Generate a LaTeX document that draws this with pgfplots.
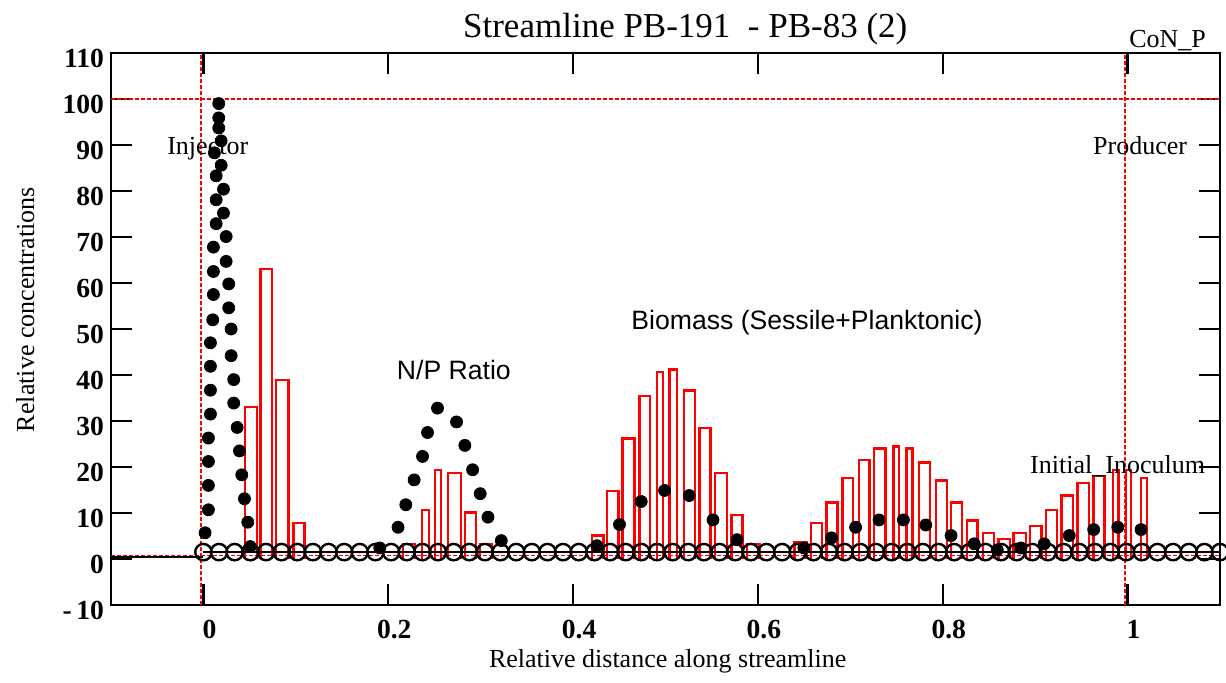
\documentclass[border=0pt]{standalone}
\usepackage{pgfplots}
\pgfplotsset{compat=1.18}
\usepackage{fontspec}
\setmainfont{Liberation Serif}
\newfontfamily\arial{Liberation Sans}
\newcommand{\rbar}[3]{\addplot[color=red, line width=1.2pt, sharp plot, mark=none] coordinates {(#1,0) (#1,#3) (#2,#3) (#2,0)};}
\begin{document}
\begin{tikzpicture}
\path[use as bounding box] (-55.5pt,-38.5pt) rectangle (557.5pt,302.5pt);
\begin{axis}[
  width=554.5pt, height=276pt, scale only axis,
  xmin=-0.1, xmax=1.1, ymin=-10, ymax=110,
  axis line style={line width=1.1pt, black},
  every tick/.style={line width=1.1pt, black},
  major tick length=10.5pt,
  tick align=inside,
  xtick={0,0.2,0.4,0.6,0.8,1},
  xticklabels={0,0.2,0.4,0.6,0.8,1},
  ytick={-10,0,10,20,30,40,50,60,70,80,90,100,110},
  yticklabels={-\,10,0,10,20,30,40,50,60,70,80,90,100,110},
  ticklabel style={font=\fontsize{13.8}{13.8}\selectfont\bfseries},
  xticklabel style={yshift=-4pt, xshift=3pt},
  yticklabel style={yshift=-2.5pt},
  minor tick num=0,
]
% red reference lines
\addplot[draw=red, mark=none, line width=0.6pt, dash pattern=on 2pt off 1pt] coordinates {(-0.1,100) (1.1,100)};
\addplot[draw=red, mark=none, line width=0.6pt, dash pattern=on 2pt off 1pt] coordinates {(-0.1,0.8) (1.1,0.8)};
\addplot[draw=red, mark=none, line width=0.8pt, dash pattern=on 2pt off 1pt] coordinates {(-0.0025,-10) (-0.0025,110)};
\addplot[draw=red, mark=none, line width=0.8pt, dash pattern=on 2pt off 1pt] coordinates {(0.9975,-10) (0.9975,110)};
% bars (left edge, right edge, height)
\rbar{0.0452}{0.0578}{33.0}
\rbar{0.0618}{0.0740}{63.0}
\rbar{0.0788}{0.0921}{38.9}
\rbar{0.0976}{0.1095}{7.8}
\rbar{0.2160}{0.2287}{3.3}
\rbar{0.2366}{0.2439}{10.7}
\rbar{0.2507}{0.2572}{19.3}
\rbar{0.2648}{0.2786}{18.7}
\rbar{0.2829}{0.2949}{10.1}
\rbar{0.2995}{0.3122}{3.3}
\rbar{0.4203}{0.4328}{5.1}
\rbar{0.4365}{0.4491}{14.8}
\rbar{0.4534}{0.4664}{26.2}
\rbar{0.4719}{0.4835}{35.5}
\rbar{0.4907}{0.4972}{40.7}
\rbar{0.5044}{0.5124}{41.2}
\rbar{0.5203}{0.5322}{36.6}
\rbar{0.5369}{0.5488}{28.5}
\rbar{0.5536}{0.5666}{18.7}
\rbar{0.5716}{0.5832}{9.6}
\rbar{0.5883}{0.6016}{3.3}
\rbar{0.6396}{0.6526}{3.6}
\rbar{0.6577}{0.6696}{7.8}
\rbar{0.6743}{0.6859}{12.3}
\rbar{0.6913}{0.7032}{17.6}
\rbar{0.7093}{0.7209}{21.5}
\rbar{0.7255}{0.7382}{24.0}
\rbar{0.7466}{0.7526}{24.5}
\rbar{0.7607}{0.7671}{24.0}
\rbar{0.7743}{0.7862}{21.0}
\rbar{0.7924}{0.8043}{17.1}
\rbar{0.8090}{0.8209}{12.3}
\rbar{0.8260}{0.8376}{8.4}
\rbar{0.8437}{0.8556}{5.7}
\rbar{0.8604}{0.8726}{4.3}
\rbar{0.8766}{0.8900}{5.7}
\rbar{0.8946}{0.9070}{7.2}
\rbar{0.9116}{0.9236}{10.7}
\rbar{0.9287}{0.9412}{13.8}
\rbar{0.9460}{0.9580}{16.5}
\rbar{0.9629}{0.9748}{18.0}
\rbar{0.9840}{0.9900}{19.3}
\rbar{0.9984}{1.0038}{19.3}
\rbar{1.0146}{1.0208}{17.6}
% baseline before injector
\addplot[color=black, mark=none, line width=1.1pt] coordinates {(-0.1,0.35) (0,0.35)};
% initial inoculum line with open circles
\addplot[color=black, line width=1.1pt, mark=o, mark size=4.1pt, mark options={line width=1.2pt, solid}] coordinates {
(0,1.5) (0.0169,1.5) (0.0338,1.5) (0.0508,1.5) (0.0677,1.5) (0.0846,1.5) (0.1015,1.5) (0.1185,1.5)
(0.1354,1.5) (0.1523,1.5) (0.1692,1.5) (0.1862,1.5) (0.2031,1.5) (0.2200,1.5) (0.2369,1.5) (0.2538,1.5)
(0.2708,1.5) (0.2877,1.5) (0.3046,1.5) (0.3215,1.5) (0.3385,1.5) (0.3554,1.5) (0.3723,1.5) (0.3892,1.5)
(0.4062,1.5) (0.4231,1.5) (0.4400,1.5) (0.4569,1.5) (0.4738,1.5) (0.4908,1.5) (0.5077,1.5) (0.5246,1.5)
(0.5415,1.5) (0.5585,1.5) (0.5754,1.5) (0.5923,1.5) (0.6092,1.5) (0.6262,1.5) (0.6431,1.5) (0.6600,1.5)
(0.6769,1.5) (0.6938,1.5) (0.7108,1.5) (0.7277,1.5) (0.7446,1.5) (0.7615,1.5) (0.7785,1.5) (0.7954,1.5)
(0.8123,1.5) (0.8292,1.5) (0.8462,1.5) (0.8631,1.5) (0.8800,1.5) (0.8969,1.5) (0.9138,1.5) (0.9308,1.5)
(0.9477,1.5) (0.9646,1.5) (0.9815,1.5) (0.9985,1.5) (1.0154,1.5) (1.0323,1.5) (1.0492,1.5) (1.0662,1.5)
(1.0831,1.5) (1.1000,1.5)};
% filled dots
\addplot[only marks, mark=*, mark size=3pt, color=black] table {
x y
0.0018 5.7
0.0054 10.7
0.0054 16.0
0.0054 21.2
0.0054 26.3
0.0076 31.5
0.0076 36.7
0.0076 41.9
0.0076 47.0
0.0101 52.0
0.0108 57.5
0.0108 62.5
0.0108 67.8
0.0138 72.9
0.0138 78.1
0.0138 83.3
0.0119 88.3
0.0166 93.7
0.0166 95.9
0.0166 99.0
0.0192 90.9
0.0192 85.6
0.0217 80.4
0.0217 75.2
0.0246 70.1
0.0246 64.7
0.0274 59.8
0.0274 54.6
0.0300 50.0
0.0300 44.2
0.0328 39.0
0.0328 33.9
0.0365 28.6
0.0390 23.5
0.0415 18.3
0.0444 13.1
0.0480 8.0
0.0506 2.7
0.1908 2.4
0.2106 6.9
0.2190 11.8
0.2280 17.2
0.2371 22.3
0.2425 27.5
0.2533 32.8
0.2739 29.8
0.2829 24.7
0.2913 19.4
0.2995 14.2
0.3079 9.1
0.3223 4.0
0.4257 2.9
0.4502 7.5
0.4737 12.5
0.4990 14.9
0.5257 13.8
0.5514 8.5
0.5774 4.2
0.6497 2.4
0.6797 4.6
0.7057 6.9
0.7310 8.5
0.7574 8.5
0.7816 7.4
0.8090 5.1
0.8340 3.3
0.8590 2.0
0.8846 2.4
0.9098 3.3
0.9369 5.1
0.9633 6.4
0.9894 6.9
1.0146 6.4
};
\coordinate (ttl) at (axis cs:0.5214,113.3);
\coordinate (con) at (axis cs:1.0851,111.2);
\coordinate (inj) at (axis cs:0.0047,88.0);
\coordinate (pro) at (axis cs:1.0136,88.0);
\coordinate (np) at (axis cs:0.271,39.0);
\coordinate (bio) at (axis cs:0.6531,49.8);
\coordinate (ino) at (axis cs:0.9892,18.5);
\coordinate (xl) at (axis cs:0.5024,-23.6);
\coordinate (yl) at (axis cs:-0.1832,54.2);
\end{axis}
\node[anchor=base, inner sep=0pt, font=\fontsize{17.5}{17.5}\selectfont] at (ttl) {Streamline PB-191\ \ - PB-83 (2)};
\node[anchor=base east, inner sep=0pt, font=\fontsize{13}{13}\selectfont] at (con) {CoN\_P};
\node[anchor=base, inner sep=0pt, font=\fontsize{13}{13}\selectfont] at (inj) {Injector};
\node[anchor=base, inner sep=0pt, font=\fontsize{13}{13}\selectfont] at (pro) {Producer};
\node[anchor=base, inner sep=0pt, font=\arial\fontsize{13.3}{13.3}\selectfont] at (np) {N/P Ratio};
\node[anchor=base, inner sep=0pt, font=\arial\fontsize{13.3}{13.3}\selectfont] at (bio) {Biomass (Sessile+Planktonic)};
\node[anchor=base, inner sep=0pt, font=\fontsize{13}{13}\selectfont] at (ino) {Initial\_Inoculum};
\node[anchor=base, inner sep=0pt, font=\fontsize{13}{13}\selectfont] at (xl) {Relative distance along streamline};
\node[anchor=base, rotate=90, inner sep=0pt, font=\fontsize{13}{13}\selectfont] at (yl) {Relative concentrations};
\end{tikzpicture}
\end{document}
